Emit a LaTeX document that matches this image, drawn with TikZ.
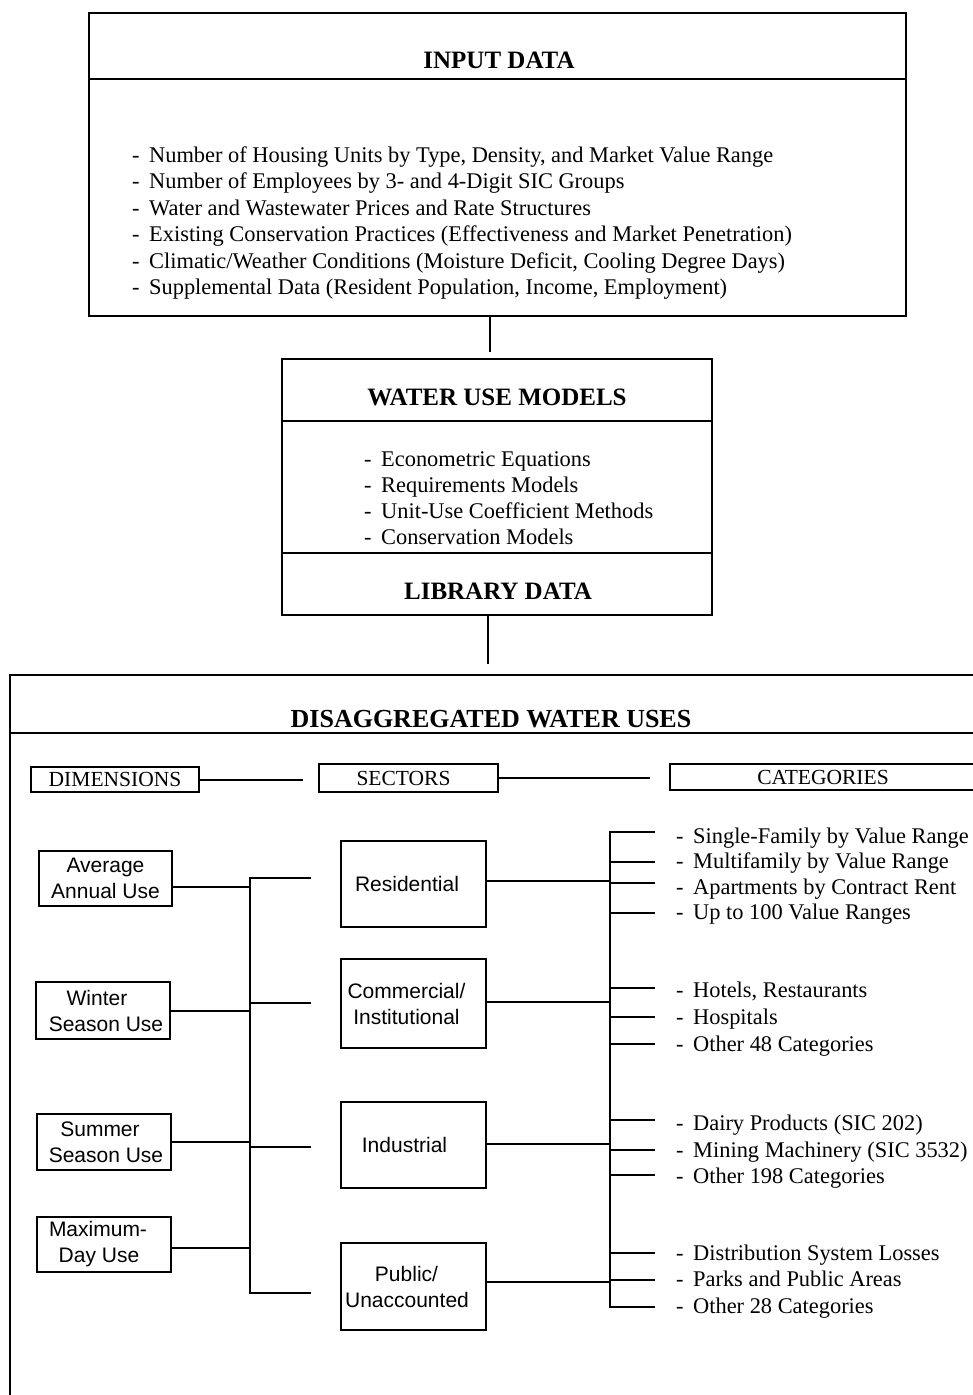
\documentclass[tikz,border=0pt]{standalone}
\usepackage{fontspec}
\setmainfont{Liberation Serif}
\newfontfamily\sansf{Liberation Sans}
\begin{document}
\begin{tikzpicture}[x=1pt,y=-1pt,line width=2.4pt,
  frame/.style={draw,line width=2.4pt,inner sep=0pt},
  sbox/.style={frame,align=center,font=\sansf\fontsize{21}{26}\selectfont},
  hbox/.style={frame,font=\fontsize{21.5}{24}\selectfont},
  item/.style={anchor=base west,inner sep=0pt,font=\fontsize{22.4}{26}\selectfont},
  head/.style={anchor=base,inner sep=0pt,font=\bfseries\fontsize{25}{30}\selectfont},
  wire/.style={line width=2.4pt}]
\useasboundingbox (0,0) rectangle (973,1395);
\fill[white] (0,0) rectangle (973,1395);
\newcommand\itm[1]{\makebox[17pt][l]{-}#1}
% shift a centred line of box text to the left by half of #1
\newcommand\lft[2]{\hspace*{-#1pt}#2}

% ---- Input data ----
\node[frame,minimum width=817,minimum height=303] (input) at (497.5,164.5) {};
\draw (input.west |- 0,79) -- (input.east |- 0,79);
\node[head] (inputT) at (499,68) {INPUT DATA};
\node[item] (in1) at (131,162) {\itm{Number of Housing Units by Type, Density, and Market Value Range}};
\node[item] (in2) at (131,188.5) {\itm{Number of Employees by 3- and 4-Digit SIC Groups}};
\node[item] (in3) at (131,215) {\itm{Water and Wastewater Prices and Rate Structures}};
\node[item] (in4) at (131,241.5) {\itm{Existing Conservation Practices (Effectiveness and Market Penetration)}};
\node[item] (in5) at (131,268) {\itm{Climatic/Weather Conditions (Moisture Deficit, Cooling Degree Days)}};
\node[item] (in6) at (131,294.5) {\itm{Supplemental Data (Resident Population, Income, Employment)}};

% ---- Water use models ----
\node[frame,minimum width=430,minimum height=256] (wum) at (497,487) {};
\draw (wum.west |- 0,421) -- (wum.east |- 0,421);
\draw (wum.west |- 0,553) -- (wum.east |- 0,553);
\node[head] (wumT) at (497,405) {WATER USE MODELS};
\node[item] (wm1) at (363,466) {\itm{Econometric Equations}};
\node[item] (wm2) at (363,492) {\itm{Requirements Models}};
\node[item] (wm3) at (363,518) {\itm{Unit-Use Coefficient Methods}};
\node[item] (wm4) at (363,544) {\itm{Conservation Models}};
\node[head] (lib) at (498,599) {LIBRARY DATA};

\coordinate (c1) at (490,352);
\draw[wire] (input.south -| c1) -- (c1);
\coordinate (c2) at (488,664);
\draw[wire] (wum.south -| c2) -- (c2);

% ---- Disaggregated water uses ----
\node[frame,anchor=north west,minimum width=1000,minimum height=760] (dwu) at (9,674) {};
\draw (dwu.west |- 0,733) -- (dwu.east |- 0,733);
\node[head,font=\bfseries\fontsize{26}{30}\selectfont] (dwuT) at (491,727) {DISAGGREGATED WATER USES};

\node[hbox,minimum width=168,minimum height=25] (dim) at (115,779.5) {DIMENSIONS};
\node[hbox,minimum width=179,minimum height=28] (sec) at (408.5,778) {\lft{10}{SECTORS}};
\node[hbox,minimum width=310,minimum height=26] (cat) at (825,777) {\lft{4}{CATEGORIES}};
\coordinate (d2s) at (303,780);
\draw[wire] (dim.east |- d2s) -- (d2s);
\coordinate (s2c) at (650,778);
\draw[wire] (sec.east |- s2c) -- (s2c);

% dimensions
\node[sbox,minimum width=133,minimum height=55] (avg) at (105.5,878.5) {Average\\Annual Use};
\node[sbox,minimum width=134,minimum height=57] (win) at (103,1010.5) {\lft{12}{Winter}\\\hspace*{6pt}Season Use};
\node[sbox,minimum width=134,minimum height=56] (sum) at (104,1142) {\lft{8}{Summer}\\\hspace*{4pt}Season Use};
\node[sbox,minimum width=134,minimum height=55] (max) at (104,1244.5) {\lft{12}{Maximum-}\\\lft{10}{Day Use}};

% sectors
\node[sbox,minimum width=145,minimum height=86] (res) at (413.5,884) {\lft{13}{Residential}};
\node[sbox,minimum width=145,minimum height=89] (com) at (413.5,1003.5) {\lft{14}{Commercial/}\\\lft{14}{Institutional}};
\node[sbox,minimum width=145,minimum height=86] (ind) at (413.5,1145) {\lft{18}{Industrial}};
\node[sbox,minimum width=145,minimum height=87] (pub) at (413.5,1286.5) {\lft{14}{Public/}\\\lft{13}{Unaccounted}};

% dimension bus
\coordinate (lbT) at (250,878);
\coordinate (lbB) at (250,1293);
\coordinate (st1) at (311,878);
\coordinate (st2) at (311,1003);
\coordinate (st3) at (311,1147);
\coordinate (st4) at (311,1293);
\draw[wire] (st1) -- (lbT) -- (lbB) -- (st4);
\draw[wire] (st2 -| lbT) -- (st2);
\draw[wire] (st3 -| lbT) -- (st3);
\draw[wire] (avg.east |- 0,887) -- (lbT |- 0,887);
\draw[wire] (win.east |- 0,1011) -- (lbT |- 0,1011);
\draw[wire] (sum.east |- 0,1142) -- (lbT |- 0,1142);
\draw[wire] (max.east |- 0,1248) -- (lbT |- 0,1248);

% category bus
\coordinate (rbT) at (610,832);
\coordinate (rbB) at (610,1307);
\coordinate (tk1) at (655,832);
\coordinate (tk13) at (655,1307);
\draw[wire] (tk1) -- (rbT) -- (rbB) -- (tk13);
\foreach \y in {862,883,913,988,1017,1044,1120,1150,1175,1253,1280}
  \draw[wire] (rbT |- 0,\y) -- (tk1 |- 0,\y);
\draw[wire] (res.east |- 0,881) -- (rbT |- 0,881);
\draw[wire] (com.east |- 0,1002) -- (rbT |- 0,1002);
\draw[wire] (ind.east |- 0,1144) -- (rbT |- 0,1144);
\draw[wire] (pub.east |- 0,1282) -- (rbT |- 0,1282);

% categories
\node[item] (ct1) at (675,843) {\itm{Single-Family by Value Range}};
\node[item] (ct2) at (675,868.5) {\itm{Multifamily by Value Range}};
\node[item] (ct3) at (675,894) {\itm{Apartments by Contract Rent}};
\node[item] (ct4) at (675,919.5) {\itm{Up to 100 Value Ranges}};
\node[item] (ct5) at (675,997) {\itm{Hotels, Restaurants}};
\node[item] (ct6) at (675,1024) {\itm{Hospitals}};
\node[item] (ct7) at (675,1051) {\itm{Other 48 Categories}};
\node[item] (ct8) at (675,1130) {\itm{Dairy Products (SIC 202)}};
\node[item] (ct9) at (675,1157) {\itm{Mining Machinery (SIC 3532)}};
\node[item] (ct10) at (675,1183) {\itm{Other 198 Categories}};
\node[item] (ct11) at (675,1260) {\itm{Distribution System Losses}};
\node[item] (ct12) at (675,1286) {\itm{Parks and Public Areas}};
\node[item] (ct13) at (675,1313) {\itm{Other 28 Categories}};
\end{tikzpicture}
\end{document}
